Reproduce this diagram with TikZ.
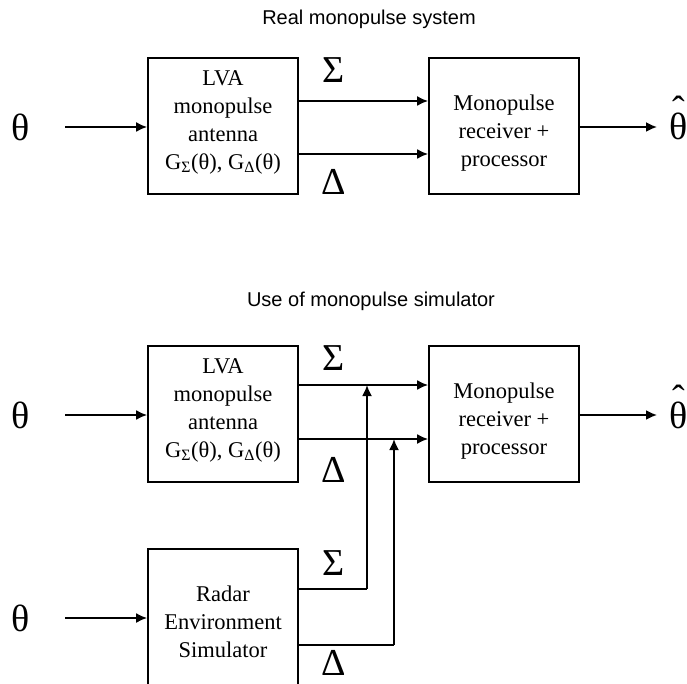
\documentclass[tikz,border=0pt]{standalone}
\usepackage{fontspec}
\setmainfont{Liberation Serif}
\newfontfamily\titlefont{Liberation Sans}
\usetikzlibrary{arrows.meta}
\newcommand{\thetahat}{\ooalign{θ\cr\hidewidth\raisebox{17pt}{ˆ}\hidewidth\cr}}
\begin{document}
\begin{tikzpicture}[x=1pt,y=-1pt,
  blk/.style={draw,line width=1.8pt,minimum width=150pt,minimum height=136pt,inner sep=0pt},
  btxt/.style={align=center,inner sep=0pt,font=\fontsize{22.5}{28}\selectfont},
  arr/.style={line width=1.8pt,-{Latex[length=11pt,width=10pt]}},
  ln/.style={line width=1.8pt},
  big/.style={font=\fontsize{38}{40}\selectfont,inner sep=0pt},
  ttl/.style={font=\titlefont\fontsize{20}{22}\selectfont,inner sep=0pt}]
\useasboundingbox (0,0) rectangle (687,684);
\clip (0,0) rectangle (687,684);
% titles
\node[ttl] (t1) at (369,19) {Real monopulse system};
\node[ttl] (t2) at (371,301) {Use of monopulse simulator};
% top row
\node[blk] (lva1) at (223,126) {};
\node[btxt] (lva1t) at (223,122) {LVA\\monopulse\\antenna\\G\textsubscript{Σ}(θ), G\textsubscript{Δ}(θ)};
\node[blk] (rec1) at (504,126) {};
\node[btxt] (rec1t) at (504,133) {Monopulse\\receiver +\\processor};
\node[big] (th1) at (21,127) {θ};
\node[big,anchor=base] (out1) at (679,140) {\thetahat};
\coordinate (in1) at (65,127);
\coordinate (o1) at (657,127);
\draw[arr] (in1) -- (lva1.west |- in1);
\draw[arr] (rec1.east |- o1) -- (o1);
\draw[arr] (lva1.east |- 0,101) -- (rec1.west |- 0,101);
\draw[arr] (lva1.east |- 0,154) -- (rec1.west |- 0,154);
\node[big] (s1) at (334,70) {Σ};
\node[big] (d1) at (334,182) {Δ};
% bottom row
\node[blk] (lva2) at (223,414) {};
\node[btxt] (lva2t) at (223,410) {LVA\\monopulse\\antenna\\G\textsubscript{Σ}(θ), G\textsubscript{Δ}(θ)};
\node[blk] (rec2) at (504,414) {};
\node[btxt] (rec2t) at (504,421) {Monopulse\\receiver +\\processor};
\node[big] (th2) at (21,415) {θ};
\node[big,anchor=base] (out2) at (679,428) {\thetahat};
\coordinate (in2) at (65,415);
\coordinate (o2) at (657,415);
\draw[arr] (in2) -- (lva2.west |- in2);
\draw[arr] (rec2.east |- o2) -- (o2);
\draw[arr] (lva2.east |- 0,385) -- (rec2.west |- 0,385);
\draw[arr] (lva2.east |- 0,439) -- (rec2.west |- 0,439);
\node[big] (s2) at (334,358) {Σ};
\node[big] (d2) at (334,470) {Δ};
% simulator
\node[blk] (sim) at (223,617) {};
\node[btxt] (simt) at (223,622) {Radar\\Environment\\Simulator};
\node[big] (th3) at (21,618) {θ};
\coordinate (in3) at (65,618);
\draw[arr] (in3) -- (sim.west |- in3);
\coordinate (js) at (367,589);
\coordinate (jd) at (394,645);
\draw[ln] (sim.east |- js) -- (js);
\draw[arr] (js) -- (367,385);
\draw[ln] (sim.east |- jd) -- (jd);
\draw[arr] (jd) -- (394,439);
\node[big] (s3) at (334,563) {Σ};
\node[big] (d3) at (334,663) {Δ};
\end{tikzpicture}
\end{document}
